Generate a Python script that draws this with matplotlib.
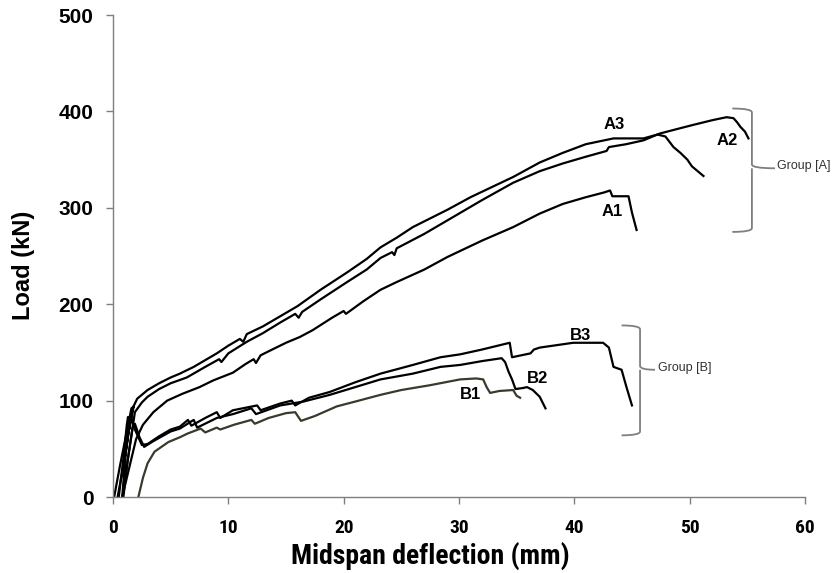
import matplotlib
matplotlib.use('Agg')
import matplotlib.pyplot as plt
from matplotlib.path import Path
from matplotlib.patches import PathPatch
from matplotlib import font_manager
from matplotlib.font_manager import FontProperties

# Load (kN) vs midspan deflection (mm)
a1_x = [0.8, 1.4, 2.0, 2.6, 3.5, 4.7, 6.0, 7.5, 8.7, 10.4, 11.5, 12.2, 12.4, 12.8, 13.3, 15.0, 16.2,
        17.3, 19.0, 20.0, 20.2, 21.7, 23.2, 24.6, 27.0, 29.0, 32.0, 34.7, 37.0, 39.0, 41.0, 42.6, 43.1,
        43.3, 44.0, 44.7, 45.0, 45.4]
a1_y = [0, 30, 60, 75, 88, 100, 107, 114, 121, 129, 138, 143, 139, 147, 150, 160, 166,
        173, 186, 193, 190, 203, 215, 223, 236, 249, 266, 280, 294, 304, 311, 316, 318,
        312, 312, 312, 295, 277]

a2_x = [0.4, 1.0, 1.5, 1.1, 0.8, 1.3, 1.9, 2.5, 3.0, 4.0, 5.0, 6.4, 8.0, 9.2, 9.4, 10.0, 11.6, 13.0,
        14.5, 15.8, 16.1, 16.4, 18.0, 20.3, 22.0, 23.2, 24.2, 24.4, 24.6, 27.0, 29.0, 32.0, 34.7, 37.0,
        39.0, 41.0, 42.8, 43.0, 44.5, 46.0, 47.4, 49.0, 50.3, 52.0, 53.2, 53.8, 54.1, 54.4, 54.8, 55.1]
a2_y = [0, 38, 80, 45, 0, 40, 88, 98, 104, 112, 118, 124, 135, 143, 140, 149, 161, 170,
        181, 190, 186, 192, 205, 223, 236, 248, 254, 251, 258, 273, 287, 308, 326, 338,
        346, 353, 359, 363, 366, 370, 377, 382, 386, 391, 394, 393, 389, 384, 379, 372]

a3_x = [0.1, 0.6, 1.1, 1.6, 1.8, 1.4, 1.7, 2.1, 2.5, 3.0, 4.0, 5.0, 5.8, 7.0, 8.0, 9.0, 10.0, 11.0,
        11.3, 11.6, 13.0, 14.0, 16.0, 18.0, 20.3, 22.0, 23.2, 24.6, 26.0, 29.0, 31.0, 34.7, 37.0,
        39.0, 41.0, 43.4, 46.0, 47.2, 47.9, 48.6, 49.2, 49.8, 50.2, 50.6, 51.2]
a3_y = [0, 32, 62, 92, 94, 70, 92, 102, 106, 111, 118, 124, 128, 135, 142, 149, 157, 164,
        161, 169, 177, 184, 198, 215, 233, 247, 259, 269, 280, 298, 311, 332, 347,
        357, 366, 372, 372, 376, 374, 363, 357, 350, 343, 339, 333]

b1_x = [2.2, 2.6, 3.0, 3.6, 4.8, 5.8, 6.5, 7.6, 8.0, 9.0, 9.3, 10.5, 12.0, 12.3, 13.5, 15.0, 15.8,
        16.3, 17.5, 19.4, 21.0, 23.2, 25.0, 27.5, 30.1, 31.5, 32.1, 32.4, 32.7, 33.5, 34.7, 35.0, 35.3]
b1_y = [0, 20, 35, 47, 57, 62, 66, 71, 67, 72, 70, 75, 80, 76, 82, 87, 88,
        79, 84, 94, 99, 106, 111, 116, 122, 123, 122, 114, 108, 110, 111, 105, 103]

b2_x = [0.9, 1.3, 1.7, 1.9, 2.3, 2.7, 3.5, 5.0, 5.8, 7.0, 7.3, 9.0, 10.4, 12.0, 12.4, 14.5, 16.5,
        18.8, 21.0, 23.2, 26.0, 28.4, 30.1, 32.0, 33.7, 34.0, 34.3, 34.6, 34.9, 35.5, 35.9, 36.4,
        37.0, 37.5]
b2_y = [0, 40, 72, 76, 62, 52, 58, 68, 71, 80, 72, 82, 86, 92, 86, 95, 99,
        106, 114, 122, 128, 135, 137, 141, 144, 140, 130, 122, 112, 113, 114, 111,
        104, 92]

b3_x = [0.5, 0.9, 1.2, 1.3, 1.6, 1.9, 2.5, 3.0, 4.0, 5.0, 5.8, 6.5, 6.8, 8.0, 9.0, 9.3, 10.4, 12.5,
        12.8, 14.5, 15.5, 15.8, 17.0, 18.8, 21.0, 23.2, 26.0, 28.4, 30.1, 32.0, 34.4, 34.6, 36.2,
        36.5, 37.0, 39.9, 42.5, 43.0, 43.4, 44.1, 44.5, 45.0]
b3_y = [0, 40, 75, 83, 82, 70, 54, 55, 63, 70, 73, 80, 74, 82, 88, 82, 90, 95,
        90, 97, 100, 95, 103, 109, 119, 128, 137, 145, 148, 153, 160, 145, 149,
        153, 155, 160, 160, 155, 135, 132, 115, 95]

curve_names = ['A1', 'A2', 'A3', 'B1', 'B2', 'B3']
label_x = [43.3, 53.3, 43.5, 31.0, 36.8, 40.5]
label_y = [296, 370, 386, 106, 123, 168]


# the x axis texts use a narrow bold face; pick one that is installed
def narrow_bold():
    prefs = ['Liberation Sans Narrow', 'Roboto Condensed', 'Open Sans Condensed',
             'Noto Sans Condensed', 'DejaVu Sans Condensed']
    found = {}
    for f in font_manager.fontManager.ttflist:
        nm = f.name
        cond = ('Narrow' in nm or 'Condensed' in nm or 'condensed' in str(f.stretch)
                or 'Condensed' in f.fname or 'Narrow' in f.fname)
        if not cond:
            continue
        w = f.weight if isinstance(f.weight, int) else (700 if 'bold' in str(f.weight) else 400)
        italic = f.style != 'normal'
        if italic or w < 600:
            continue
        key = nm if ('Narrow' in nm or 'Condensed' in nm) else nm + ' Condensed'
        found.setdefault(key, f.fname)
    for p in prefs:
        if p in found:
            return FontProperties(fname=found[p])
    if found:
        return FontProperties(fname=list(found.values())[0])
    return FontProperties(family='Liberation Sans', weight='bold', stretch='condensed')


fig = plt.figure(figsize=(8.32, 5.73), dpi=100)
ax = fig.add_axes([0.1358, 0.1326, 0.8317, 0.8412])

for xs, ys, c in [(a1_x, a1_y, 'black'), (a2_x, a2_y, 'black'), (a3_x, a3_y, 'black'),
                  (b1_x, b1_y, '#3a3a2c'), (b2_x, b2_y, 'black'), (b3_x, b3_y, 'black')]:
    ax.plot(xs, ys, color=c, lw=1.6, solid_joinstyle='round')

for name, lx, ly in zip(curve_names, label_x, label_y):
    ax.text(lx, ly, name, ha='center', va='center', fontsize=12, fontweight='bold',
            family='Liberation Sans')


def brace(x_end, x_spine, x_tip, y_top, y_bot, y_tip):
    r = 4.0
    verts = [(x_end, y_top), (x_spine, y_top), (x_spine, y_top - r),
             (x_spine, y_tip + r), (x_spine, y_tip), (x_tip, y_tip),
             (x_spine, y_tip), (x_spine, y_tip - r),
             (x_spine, y_bot + r), (x_spine, y_bot), (x_end, y_bot)]
    codes = [Path.MOVETO, Path.CURVE3, Path.CURVE3,
             Path.LINETO, Path.CURVE3, Path.CURVE3,
             Path.MOVETO, Path.CURVE3,
             Path.LINETO, Path.CURVE3, Path.CURVE3]
    ax.add_patch(PathPatch(Path(verts, codes), fill=False, ec='#7f7f7f', lw=1.3,
                           clip_on=False))


brace(53.7, 55.4, 57.4, 403, 275, 341)
ax.text(57.6, 343, 'Group [A]', fontsize=9, color='#333333', va='center', ha='left',
        family='Liberation Sans', clip_on=False)
brace(44.1, 45.7, 47.0, 178, 64, 132)
ax.text(47.3, 134, 'Group [B]', fontsize=9, color='#333333', va='center', ha='left',
        family='Liberation Sans')

ax.set_xlim(0, 60)
ax.set_ylim(0, 500)
ax.set_xticks(range(0, 61, 10))
ax.set_yticks(range(0, 501, 100))
for s in ['top', 'right']:
    ax.spines[s].set_visible(False)
for s in ['left', 'bottom']:
    ax.spines[s].set_color('#7f7f7f')
    ax.spines[s].set_linewidth(1.0)
ax.tick_params(axis='both', direction='out', length=5, color='#7f7f7f', width=1.0)
ax.tick_params(axis='x', pad=11)
ax.tick_params(axis='y', pad=9)

nb = narrow_bold()
tick_font = nb.copy()
tick_font.set_size(14)
for t in ax.get_yticklabels():
    t.set_fontfamily('Liberation Sans')
    t.set_fontweight('bold')
    t.set_fontsize(15)
for t in ax.get_xticklabels():
    t.set_fontproperties(tick_font)

label_font = nb.copy()
label_font.set_size(20)
ax.set_xlabel('Midspan deflection (mm)', fontproperties=label_font)
ax.xaxis.set_label_coords(0.458, -0.093)
ax.set_ylabel('Load (kN)', family='Liberation Sans', fontweight='bold', fontsize=17)
ax.yaxis.set_label_coords(-0.113, 0.48)

fig.savefig('out.png', dpi=100)
